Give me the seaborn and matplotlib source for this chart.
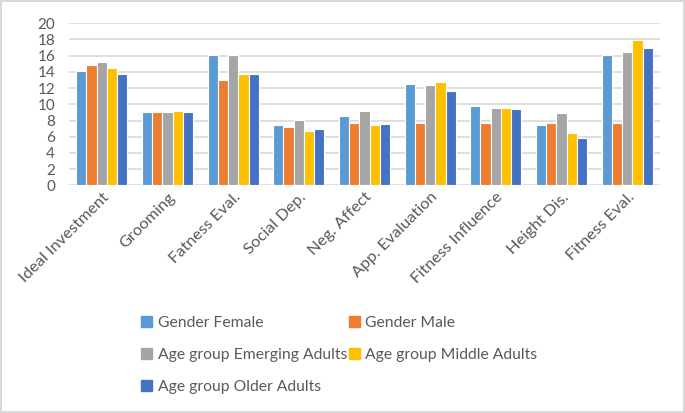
import pandas as pd
import matplotlib.pyplot as plt
import seaborn as sns

# Data
categories = ["Ideal Investment", "Grooming", "Fatness Eval.", "Social Dep.", "Neg. Affect",
              "App. Evaluation", "Fitness Influence", "Height Dis.", "Fitness Eval."]
groups = ["Gender Female", "Gender Male", "Age group Emerging Adults",
          "Age group Middle Adults", "Age group Older Adults"]
gender_female = [14.1, 9.0, 16.1, 7.4, 8.5, 12.5, 9.8, 7.5, 16.1]
gender_male = [14.9, 9.1, 13.0, 7.2, 7.7, 7.7, 7.7, 7.7, 7.7]
age_emerging = [15.2, 9.0, 16.1, 8.1, 9.2, 12.4, 9.6, 8.9, 16.4]
age_middle = [14.5, 9.2, 13.7, 6.7, 7.5, 12.7, 9.6, 6.4, 17.9]
age_older = [13.7, 9.0, 13.8, 7.0, 7.6, 11.7, 9.4, 5.8, 16.9]
colors = ["#5B9BD5", "#ED7D31", "#A5A5A5", "#FFC000", "#4472C4"]

series = [gender_female, gender_male, age_emerging, age_middle, age_older]
rows = []
for g, vals in zip(groups, series):
    for c, v in zip(categories, vals):
        rows.append({"category": c, "group": g, "value": v})
df = pd.DataFrame(rows)

sns.set_style("white")
plt.rcParams['font.family'] = ['Lato', 'DejaVu Sans']
text_color = "#595959"

fig = plt.figure(figsize=(6.85, 4.13), dpi=100)
fig.patch.set_edgecolor("#D9D9D9")
fig.patch.set_linewidth(1.5)
ax = fig.add_axes([0.1007, 0.5513, 0.8628, 0.3923])

sns.barplot(data=df, x="category", y="value", hue="group", order=categories,
            hue_order=groups, palette=colors, saturation=1, width=0.78,
            edgecolor="white", linewidth=0.8, ax=ax, legend=False)

ax.set_ylim(0, 20)
ax.set_yticks(range(0, 21, 2))
ax.yaxis.grid(True, color="#D9D9D9", linewidth=1.2)
ax.set_axisbelow(True)
for s in ax.spines.values():
    s.set_visible(False)
ax.set_xlabel("")
ax.set_ylabel("")
ax.tick_params(axis='both', length=0, labelsize=11, colors=text_color)
ax.tick_params(axis='x', labelsize=11.8)
ax.tick_params(axis='y', pad=10)
plt.setp(ax.get_xticklabels(), rotation=45, ha='right', rotation_mode='anchor')

# Legend below the chart, row-major order like the original
handles = [plt.Rectangle((0, 0), 1, 1, color=c) for c in colors]
order = [0, 2, 4, 1, 3]
fig.legend([handles[i] for i in order], [groups[i] for i in order],
           loc='upper left', bbox_to_anchor=(0.206, 0.236), ncol=2, frameon=False,
           fontsize=11.3, labelcolor=text_color, handlelength=0.7, handleheight=0.7,
           handletextpad=0.35, columnspacing=0.1, labelspacing=1.15,
           borderaxespad=0, borderpad=0)

plt.savefig("out.png", dpi=100)
